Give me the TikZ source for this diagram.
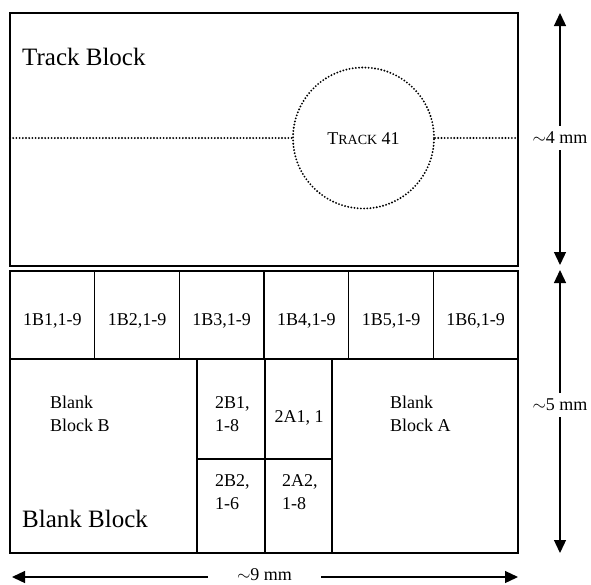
\documentclass[tikz,border=0pt]{standalone}
\usepackage{fontspec}
\setmainfont{Liberation Serif}
\usetikzlibrary{arrows.meta, positioning}

\begin{document}
\begin{tikzpicture}[x=1pt, y=-1pt,
    block/.style={draw, line width=2.4pt},
    grid/.style={draw, line width=1.3pt},
    dotline/.style={line width=2.1pt, line cap=round, dash pattern=on 0pt off 3.2pt},
    lab/.style={font=\fontsize{18}{23}\selectfont, inner sep=0pt, align=left},
    biglab/.style={font=\fontsize{25}{30}\selectfont, inner sep=0pt},
    dim/.style={line width=1.3pt, -{Triangle[length=13pt, width=12pt]}},
  ]
    \useasboundingbox (0,0) rectangle (591,584);

    % track block
    \node[circle, dotline, draw, minimum size=141pt, inner sep=0pt] (track) at (363.5,138) {};
    \node[lab, anchor=base] (tracklab) at (363.5,144) {T{\fontsize{14}{16}\selectfont RACK} 41};
    \coordinate (lineL) at (10,138);
    \coordinate (lineR) at (518,138);
    \draw[dotline] (lineL) -- (track.west);
    \draw[dotline] (track.east) -- (lineR);
    \node[biglab, anchor=base west] (tracktitle) at (22,65) {Track Block};
    \draw[block] (10,13) rectangle (518,266);

    % blank block grid
    \foreach \i in {1,...,6} {
      \draw[grid] ({10+84.67*(\i-1)},271) rectangle ({10+84.67*\i},359);
      \node[lab, anchor=base] (b\i) at ({10+84.67*(\i-0.5)},325) {1B\i,1-9};
    }
    \draw[grid] (197,359) rectangle (265,459);
    \draw[grid] (265,359) rectangle (332,459);
    \draw[grid] (197,459) rectangle (265,553);
    \draw[grid] (265,459) rectangle (332,553);

    \node[lab, anchor=north west] (blankB) at (50,396) {Blank\\Block B};
    \node[lab, anchor=north west] (blankA) at (390,396) {Blank\\Block A};
    \node[lab, anchor=north west] (twoBone) at (215,396) {2B1,\\1-8};
    \node[lab, anchor=base] (twoAone) at (299,422) {2A1, 1};
    \node[lab, anchor=north west] (twoBtwo) at (215,474) {2B2,\\1-6};
    \node[lab, anchor=north west] (twoAtwo) at (282,474) {2A2,\\1-8};
    \node[biglab, anchor=base west] (blanktitle) at (22,527) {Blank Block};
    \draw[block] (10,271) rectangle (518,553);

    % dimensions
    \coordinate (fourT) at (560,13);
    \coordinate (fourB) at (560,265);
    \coordinate (fiveT) at (560,270);
    \coordinate (fiveB) at (560,553);
    \coordinate (nineL) at (12,577);
    \coordinate (nineR) at (518,577);
    \node[lab, inner ysep=6pt] (four) at (560,138) {$\sim$4 mm};
    \node[lab, inner ysep=6pt] (five) at (560,405) {$\sim$5 mm};
    \node[lab, inner xsep=29pt] (nine) at (264.5,575) {$\sim$9 mm};
    \draw[dim] (four) -- (fourT);
    \draw[dim] (four) -- (fourB);
    \draw[dim] (five) -- (fiveT);
    \draw[dim] (five) -- (fiveB);
    \draw[dim] (nine.west |- nineL) -- (nineL);
    \draw[dim] (nine.east |- nineR) -- (nineR);
\end{tikzpicture}
\end{document}
